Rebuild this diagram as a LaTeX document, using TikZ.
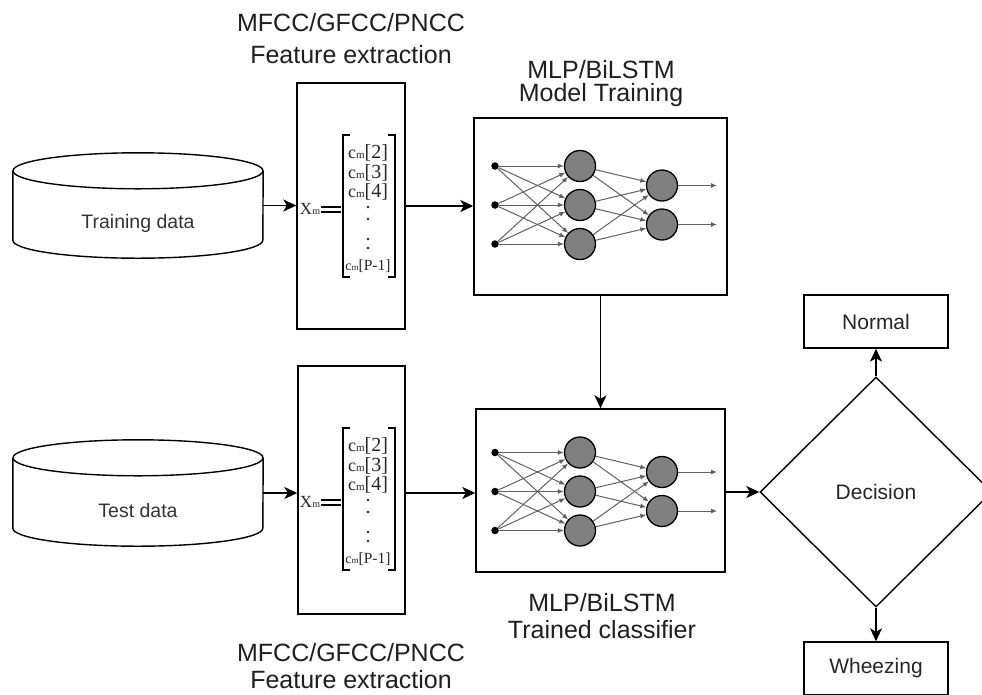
\documentclass[tikz,border=0pt]{standalone}
\usepackage{fontspec}
\setmainfont{Liberation Sans}
\newfontfamily\vecfont{Liberation Serif}
\usetikzlibrary{arrows.meta,shapes.geometric}

% one entry c_m[k] of the cepstral vector
\newcommand\crow[1]{{\fontsize{18}{18}\selectfont c}{\fontsize{11}{11}\selectfont m}{\fontsize{20}{20}\selectfont #1}}
\newcommand\crowlast{{\fontsize{14}{14}\selectfont c}{\fontsize{9}{9}\selectfont m}{\fontsize{15.5}{15.5}\selectfont [P-1]}}

% database drum drawn round a plain node of the same size
\newcommand\drumshape[1]{%
  \draw[line width=1.4pt] ([yshift=-18pt]#1.north) ellipse [x radius=125pt, y radius=18pt];
  \draw[line width=1.4pt] ([yshift=-18pt]#1.north west) -- ([yshift=18pt]#1.south west)
     arc[start angle=180, end angle=360, x radius=125pt, y radius=18pt]
     -- ([yshift=-18pt]#1.north east);
}

\tikzset{
  box/.style={draw, line width=1.4pt, rectangle, inner sep=0pt},
  flow/.style={draw, line width=1.5pt, -{Stealth[length=13pt,width=12pt,inset=3.5pt]}},
  syn/.style={draw=black!62, line width=1pt, -{Latex[length=6pt,width=5pt]}},
  neuron/.style={circle, draw, line width=1.3pt, fill=black!50, minimum size=31pt, inner sep=0pt},
  indot/.style={circle, fill=black, minimum size=7.5pt, inner sep=0pt},
  caption/.style={anchor=base, font=\fontsize{25}{25}\selectfont, text=black!88, inner sep=0pt},
  inlabel/.style={font=\fontsize{19.5}{19.5}\selectfont, text=black!80},
  outlabel/.style={font=\fontsize{21}{21}\selectfont, text=black!85},
  vecrow/.style={inner sep=0pt, font=\vecfont, text=black!85},
  brk/.style={line width=2.6pt},
  % small fully connected network: 3 inputs, 3 hidden, 2 outputs
  pics/mlp/.style={code={
    \foreach \k/\yy in {1/-39,2/0,3/39}{
      \node[indot] (-i\k) at (-105,\yy) {};
      \node[neuron] (-h\k) at (-20,\yy) {};
    }
    \foreach \k/\yy in {1/-19.5,2/19.5}{
      \node[neuron] (-o\k) at (62,\yy) {};
      \coordinate (-e\k) at (117,\yy);
    }
    \foreach \a in {1,2,3}{
      \foreach \b in {1,2,3}{\draw[syn] (-i\a) -- (-h\b);}
      \foreach \b in {1,2}{\draw[syn] (-h\a) -- (-o\b);}
    }
    \foreach \b in {1,2}{\draw[syn] (-o\b) -- (-e\b);}
  }},
  % feature vector X_m = [c_m[2] ... c_m[P-1]]
  pics/featvec/.style={code={
    \draw[brk] (7,0) -- (0,0) -- (0,142) -- (7,142);
    \draw[brk] (45,0) -- (52,0) -- (52,142) -- (45,142);
    \node[vecrow] (-r1) at (25,18) {\crow{[2]}};
    \node[vecrow] (-r2) at (25,38) {\crow{[3]}};
    \node[vecrow] (-r3) at (25,57) {\crow{[4]}};
    \foreach \yy in {72,84,104,113}{\fill[black!85] (25,\yy) circle[radius=1.3pt];}
    \node[vecrow] (-r4) at (25,131) {\crowlast};
    \node[vecrow] (-x) at (-33,74) {{\fontsize{17}{17}\selectfont X}{\fontsize{10}{10}\selectfont m}};
    \draw[line width=2.2pt] (-22,72.3) -- (-2,72.3) (-22,76.9) -- (-2,76.9);
  }},
}

\begin{document}
\begin{tikzpicture}[x=1pt,y=-1pt]
\useasboundingbox (0,0) rectangle (982,694);
\fill[white] (0,0) rectangle (982,694);

% data sources
\node[minimum width=250pt, minimum height=105pt, inner sep=0pt] (train) at (138,205.5) {};
\node[minimum width=250pt, minimum height=106pt, inner sep=0pt] (test) at (138,493) {};
\drumshape{train}
\drumshape{test}
\node[inlabel] (traintxt) at (138,223) {Training data};
\node[inlabel] (testtxt) at (138,511) {Test data};

% feature extraction blocks
\node[box, minimum width=108pt, minimum height=246pt] (feat1) at (351,206) {};
\node[box, minimum width=107pt, minimum height=248pt] (feat2) at (351.5,490) {};
\pic (vecA) at (343,135) {featvec};
\pic (vecB) at (343,428) {featvec};

% networks
\node[box, minimum width=253pt, minimum height=177pt] (nn1) at (600.5,206.5) {};
\node[box, minimum width=249pt, minimum height=163pt] (nn2) at (600.5,490.5) {};
\pic (netA) at (600,205) {mlp};
\pic (netB) at (600,491.5) {mlp};

% decision and outcomes
\node[diamond, draw, line width=1.4pt, minimum width=232pt, minimum height=230pt, inner sep=0pt, outlabel] (dec) at (876,492) {Decision};
\node[box, minimum width=144pt, minimum height=53pt, outlabel] (normal) at (876,321.5) {Normal};
\node[box, minimum width=144pt, minimum height=53pt, outlabel] (wheez) at (876,668.5) {Wheezing};

% captions
\node[caption] (capf1a) at (351,31.4) {MFCC/GFCC/PNCC};
\node[caption] (capf1b) at (351,63.4) {Feature extraction};
\node[caption] (capn1a) at (601,78.4) {MLP/BiLSTM};
\node[caption] (capn1b) at (601,101.4) {Model Training};
\node[caption] (capn2a) at (602,611.4) {MLP/BiLSTM};
\node[caption] (capn2b) at (602,638.4) {Trained classifier};
\node[caption] (capf2a) at (351,661.4) {MFCC/GFCC/PNCC};
\node[caption] (capf2b) at (351,688.4) {Feature extraction};

% data flow
\draw[flow] (train.east) -- (train.east -| feat1.west);
\draw[flow] (feat1.east) -- (feat1.east -| nn1.west);
\draw[flow] (nn1.south) -- (nn1.south |- nn2.north);
\draw[flow] (test.east) -- (test.east -| feat2.west);
\draw[flow] (test.east -| feat2.east) -- (test.east -| nn2.west);
\draw[flow] (dec.west -| nn2.east) -- (dec.west);
\draw[flow] (dec.north) -- (normal.south);
\draw[flow] (dec.south) -- (wheez.north);
\end{tikzpicture}
\end{document}
